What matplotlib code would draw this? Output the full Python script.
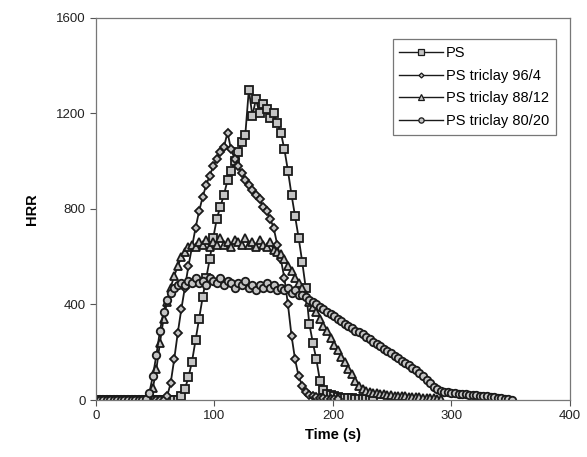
import numpy as np
import matplotlib.pyplot as plt

plt.rcParams['font.family'] = ['Liberation Sans', 'DejaVu Sans']

# HRR readings, one sample every 3 s starting at t = 0
step = 3

ps = [0] * 24 + [
    15, 45, 95, 160, 250, 340, 430, 510, 590, 680, 760, 810, 860, 920, 960,
    1000, 1040, 1080, 1110, 1300, 1190, 1260, 1200, 1240, 1220, 1180, 1200,
    1160, 1120, 1050, 960, 860, 770, 680, 580, 470, 320, 240, 170, 80, 40,
    25, 20, 15, 12, 10, 9, 8, 7, 6, 5, 5, 4, 3, 3]

ps_964 = [0] * 20 + [
    15, 70, 170, 280, 380, 470, 560, 640, 720, 790, 850, 900, 940, 980, 1010,
    1040, 1060, 1120, 1050, 1010, 980, 950, 920, 900, 880, 860, 840, 810, 790,
    760, 720, 650, 590, 510, 400, 270, 170, 100, 60, 35, 22, 15, 12, 10, 8, 6,
    5, 4, 3]

ps_8812 = [0] * 15 + [
    10, 50, 130, 240, 340, 410, 470, 520, 560, 600, 620, 640, 650, 640, 660,
    650, 670, 640, 660, 650, 680, 650, 660, 640, 670, 660, 650, 680, 650, 660,
    640, 670, 650, 640, 660, 630, 620, 610, 590, 560, 540, 510, 490, 470, 440,
    410, 390, 370, 340, 310, 290, 260, 230, 210, 180, 160, 130, 110, 80, 60,
    45, 38, 34, 31, 28, 26, 24, 22, 20, 18, 17, 16, 15, 14, 13, 12, 11, 10, 9,
    8, 7, 6, 5]

ps_8020 = [0] * 14 + [
    5, 30, 100, 190, 290, 370, 420, 450, 470, 480, 490, 480, 500, 490, 510,
    490, 500, 480, 510, 500, 490, 510, 480, 500, 490, 470, 490, 480, 500, 470,
    480, 460, 480, 470, 490, 470, 480, 460, 470, 460, 470, 450, 460, 440, 440,
    430, 420, 410, 400, 390, 380, 370, 360, 350, 340, 330, 320, 310, 300, 290,
    285, 275, 265, 255, 245, 235, 225, 215, 205, 195, 185, 175, 165, 155, 145,
    135, 125, 112, 100, 85, 70, 55, 45, 38, 34, 32, 30, 28, 27, 25, 24, 22, 21,
    19, 18, 16, 15, 13, 12, 10, 8, 6, 4, 2]

series = [
    ('PS', ps, 's', 5.2),
    ('PS triclay 96/4', ps_964, 'D', 3.6),
    ('PS triclay 88/12', ps_8812, '^', 5.2),
    ('PS triclay 80/20', ps_8020, 'o', 5.4),
]

fig = plt.figure(figsize=(5.87, 4.57), dpi=100)
ax = fig.add_axes([0.1635, 0.1247, 0.8075, 0.836])

ink = '#1a1a1a'
for name, vals, mk, ms in series:
    t = np.arange(len(vals)) * step
    ax.plot(t, vals, color=ink, lw=1.3, marker=mk, ms=ms,
            mfc='#c4c4c4', mec=ink, mew=1.3, label=name)

ax.set_xlim(0, 400)
ax.set_ylim(0, 1600)
ax.set_xticks([0, 100, 200, 300, 400])
ax.set_yticks([0, 400, 800, 1200, 1600])
ax.tick_params(direction='out', length=4, width=0.8, colors='#555555',
               labelcolor='#222222', labelsize=9.5)
for s in ax.spines.values():
    s.set_color('#777777')
    s.set_linewidth(0.9)

ax.set_xlabel('Time (s)', fontsize=10.5, fontweight='bold', labelpad=4)
ax.set_ylabel('HRR', fontsize=10.5, fontweight='bold', labelpad=12)

leg = ax.legend(loc='upper right', fontsize=10.5, frameon=True, fancybox=False,
                edgecolor='#555555', borderpad=0.45, labelspacing=0.6,
                handlelength=3.0, handletextpad=0.2, markerscale=0.7,
                bbox_to_anchor=(0.985, 0.963))
leg.get_frame().set_linewidth(0.9)
for h in leg.get_lines():
    h.set_linewidth(1.0)
    h.set_markeredgewidth(0.9)

fig.savefig('out.png', dpi=100)
